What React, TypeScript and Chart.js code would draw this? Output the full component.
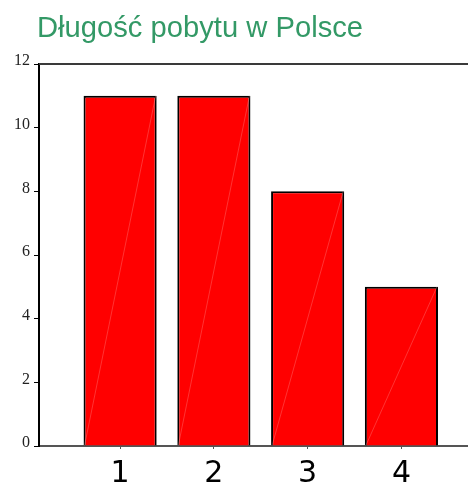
import React, { useEffect, useRef } from "react";
import { Chart, registerables } from "chart.js";

Chart.register(...registerables);

const TITLE = "Długość pobytu w Polsce";
const categories = ["1", "2", "3", "4"];
const values = [11, 11, 8, 5];
const yTicks = [0, 2, 4, 6, 8, 10, 12];

const titlePlugin = {
  id: "leftTitle",
  afterDraw(chart: any) {
    const ctx = chart.ctx;
    ctx.save();
    ctx.font = "29.2px 'Liberation Sans', Arial, sans-serif";
    ctx.fillStyle = "#339966";
    ctx.textAlign = "left";
    ctx.textBaseline = "alphabetic";
    ctx.fillText(TITLE, 37, 37);
    ctx.restore();
  },
};

const framePlugin = {
  id: "frame",
  afterDatasetsDraw(chart: any) {
    const ctx = chart.ctx;
    const a = chart.chartArea;
    const yScale = chart.scales.y;
    ctx.save();
    // faint diagonal seams inside bars
    const meta = chart.getDatasetMeta(0);
    meta.data.forEach((bar: any) => {
      const p = bar.getProps(["x", "y", "base", "width"], true);
      ctx.beginPath();
      ctx.strokeStyle = "rgba(255,170,170,0.6)";
      ctx.lineWidth = 0.5;
      ctx.moveTo(p.x - p.width / 2 + 1, p.base);
      ctx.lineTo(p.x + p.width / 2 - 1, p.y);
      ctx.stroke();
    });
    // top frame line
    const topY = yScale.getPixelForValue(12);
    ctx.beginPath();
    ctx.strokeStyle = "#3a3a3a";
    ctx.lineWidth = 2;
    ctx.moveTo(a.left, topY);
    ctx.lineTo(a.right, topY);
    ctx.stroke();
    ctx.restore();
  },
};

export default function App() {
  const ref = useRef<HTMLCanvasElement>(null);
  useEffect(() => {
    if (!ref.current) return;
    const chart = new Chart(ref.current, {
      type: "bar",
      data: {
        datasets: [
          {
            data: values.map((v, i) => ({ x: i + 1, y: v })),
            backgroundColor: "#ff0000",
            borderColor: "#000000",
            borderWidth: 2,
            borderSkipped: "bottom",
            barPercentage: 0.78,
            categoryPercentage: 1,
          },
        ],
      },
      options: {
        responsive: false,
        animation: false,
        layout: { padding: { top: 64, left: 0, right: 0, bottom: 0 } },
        plugins: {
          legend: { display: false },
          title: { display: false },
          tooltip: { enabled: false },
        },
        scales: {
          x: {
            type: "linear",
            offset: false,
            min: 0.135,
            max: 4.71,
            afterBuildTicks: (s: any) => {
              s.ticks = categories.map((_, i) => ({ value: i + 1 }));
            },
            afterFit: (s: any) => {
              s.height = 38;
            },
            grid: {
              drawOnChartArea: false,
              drawTicks: true,
              tickLength: 3,
              color: "#555555",
              offset: false,
            },
            border: { display: true, color: "#555555", width: 2 },
            ticks: {
              autoSkip: false,
              maxRotation: 0,
              padding: 7,
              color: "#000000",
              font: { family: "'DejaVu Sans', Verdana, sans-serif", size: 30 },
              callback: (v: any) => categories[Math.round(v) - 1] ?? "",
            },
          },
          y: {
            type: "linear",
            min: 0,
            max: 12,
            afterBuildTicks: (s: any) => {
              s.ticks = yTicks.map((v) => ({ value: v }));
            },
            afterFit: (s: any) => {
              s.width = 39;
            },
            grid: {
              drawOnChartArea: false,
              drawTicks: true,
              tickLength: 5,
              color: "#000000",
            },
            border: { display: true, color: "#000000", width: 2 },
            ticks: {
              padding: 4,
              labelOffset: -3,
              color: "#222222",
              font: { family: "'Liberation Serif', 'Times New Roman', serif", size: 16 },
            },
          },
        },
      },
      plugins: [framePlugin, titlePlugin],
    } as any);
    return () => chart.destroy();
  }, []);
  return (
    <div style={{ position: "fixed", left: 0, top: 0, width: 468, height: 484, background: "#fff" }}>
      <canvas ref={ref} width={468} height={484} />
    </div>
  );
}
